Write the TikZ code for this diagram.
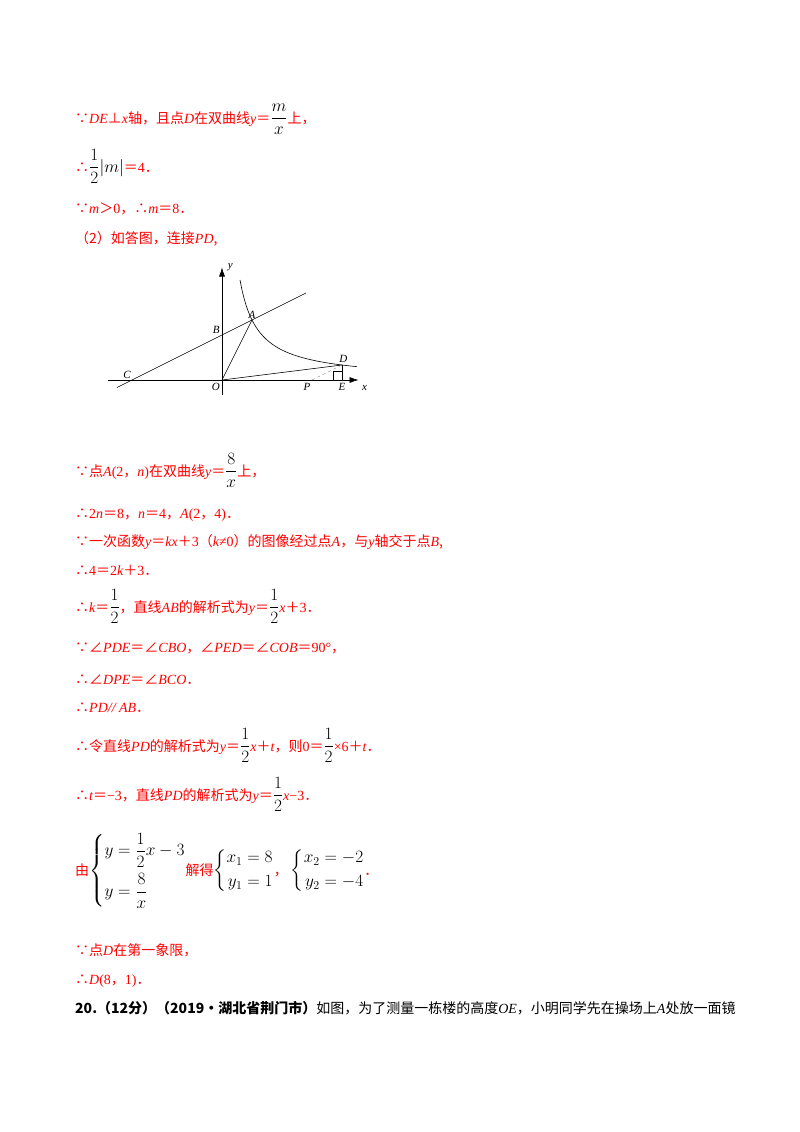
\documentclass[tikz,border=0pt]{standalone}
\usepackage{amsmath}
\usepackage{fontspec}
\setmainfont{Noto Sans CJK SC}
\newfontfamily\tms{Liberation Serif}
\usetikzlibrary{arrows.meta,positioning}
\definecolor{ansred}{RGB}{255,0,0}
\newcommand{\bk}[1]{{\color{black}\fontsize{18}{21}\selectfont #1}}
\newcommand{\vi}[1]{{\tms\itshape #1}}
\newcommand{\nm}[1]{{\tms #1}}
\tikzset{
  line/.style={anchor=base west,inner sep=0pt,text=ansred,font=\fontsize{14}{16}\selectfont},
  axis/.style={line width=0.6pt,-{Latex[length=9pt,width=6pt]}},
  lbl/.style={font=\tms\itshape\fontsize{11}{13}\selectfont,inner sep=1pt}
}
\begin{document}
\begin{tikzpicture}[x=1pt,y=1pt]
\useasboundingbox[fill=white] (0,0) rectangle (800,-1132);

% solution text
\node[line] (l1) at (75,-123) {∵\vi{DE}⊥\vi{x}轴，且点\vi{D}在双曲线\vi{y}＝\bk{$\dfrac{m}{x}$}上，};
\node[line] (l2) at (75,-172) {∴\bk{$\dfrac12|m|$}＝\nm{4}．};
\node[line] (l3) at (75,-213) {∵\vi{m}＞\nm{0}，∴\vi{m}＝\nm{8}．};
\node[line] (l4) at (75,-243) {（2）如答图，连接\vi{PD},};

% figure
\begin{scope}[shift={(222,-380)},x=15pt,y=15pt,line width=0.6pt]
\coordinate (O) at (0,0);
\coordinate (A) at (2,4);
\coordinate (B) at (0,3);
\coordinate (C) at (-6,0);
\coordinate (D) at (8,1);
\coordinate (E) at (8,0);
\coordinate (P) at (6,0);
\draw[axis] (-7.6,0) -- (9.1,0);
\draw[axis] (0,-1) -- (0,7.5);
\draw (-7,-0.5) -- (5.6,5.8);
\draw[domain=1.2:9,samples=60] plot (\x,{8/\x});
\draw (O) -- (A);
\draw (O) -- (D);
\draw (D) -- (E);
\draw[gray,dashed,line width=0.4pt] (P) -- (D);
\draw[line width=0.4pt] (7.4,0) |- (8,0.6);
\node[lbl,above=0pt of A] {A};
\node[lbl,above left=0pt and 1pt of B] {B};
\node[lbl,above left=0pt and 0pt of C] {C};
\node[lbl,above right=1pt and -4pt of D] {D};
\node[lbl,below left=2pt and 1pt of O] {O};
\node[lbl,below=2pt of P,xshift=-5pt] {P};
\node[lbl,below=2pt of E] {E};
\node[lbl] at (9.5,-0.5) {x};
\node[lbl] at (0.55,7.5) {y};
\end{scope}

\node[line] (l5) at (75,-476) {∵点\vi{A}\nm{(2}，\vi{n}\nm{)}在双曲线\vi{y}＝\bk{$\dfrac{8}{x}$}上，};
\node[line] (l6) at (75,-518) {∴\nm{2}\vi{n}＝\nm{8}，\vi{n}＝\nm{4}，\vi{A}\nm{(2}，\nm{4)}．};
\node[line] (l7) at (75,-546) {∵一次函数\vi{y}＝\vi{kx}＋\nm{3}（\vi{k}\nm{≠0}）的图像经过点\vi{A}，与\vi{y}轴交于点\vi{B},};
\node[line] (l8) at (75,-575) {∴\nm{4}＝\nm{2}\vi{k}＋\nm{3}．};
\node[line] (l9) at (75,-612) {∴\vi{k}＝\bk{$\dfrac12$}，直线\vi{AB}的解析式为\vi{y}＝\bk{$\dfrac12$}\vi{x}＋\nm{3}．};
\node[line] (l10) at (75,-652) {∵∠\vi{PDE}＝∠\vi{CBO}，∠\vi{PED}＝∠\vi{COB}＝\nm{90°}，};
\node[line] (l11) at (75,-684) {∴∠\vi{DPE}＝∠\vi{BCO}．};
\node[line] (l12) at (75,-712) {∴\vi{PD// AB}．};
\node[line] (l13) at (75,-751) {∴令直线\vi{PD}的解析式为\vi{y}＝\bk{$\dfrac12$}\vi{x}＋\vi{t}，则\nm{0}＝\bk{$\dfrac12$}\nm{×6}＋\vi{t}．};
\node[line] (l14) at (75,-800) {∴\vi{t}＝\nm{−3}，直线\vi{PD}的解析式为\vi{y}＝\bk{$\dfrac12$}\vi{x}\nm{−3}．};
\node[line] (l15) at (75,-875) {由\bk{$\left\{\begin{aligned} y&=\dfrac12x-3\\[2pt] y&=\dfrac8x\end{aligned}\right.$}解得\bk{$\left\{\begin{aligned}x_1&=8\\ y_1&=1\end{aligned}\right.$}，\ \bk{$\left\{\begin{aligned}x_2&=-2\\ y_2&=-4\end{aligned}\right.$}．};
\node[line] (l16) at (75,-955) {∵点\vi{D}在第一象限，};
\node[line] (l17) at (75,-984) {∴\vi{D}\nm{(8}，\nm{1)}．};
\node[line,text=black] (l18) at (75,-1013) {\textbf{20.（12分）（2019•湖北省荆门市）}如图，为了测量一栋楼的高度\vi{OE}，小明同学先在操场上\vi{A}处放一面镜};
\end{tikzpicture}
\end{document}
